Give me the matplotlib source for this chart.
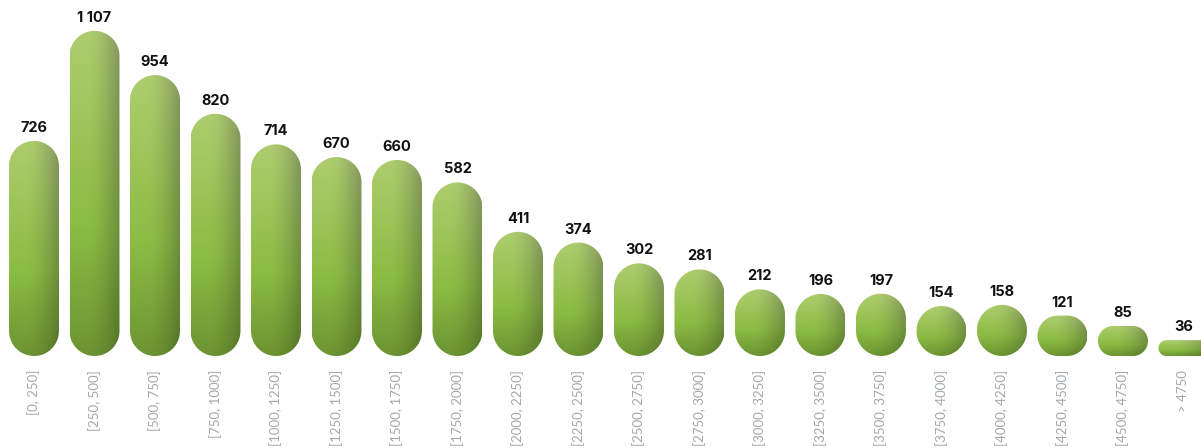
import numpy as np
import matplotlib
matplotlib.use("Agg")
import matplotlib.pyplot as plt
from matplotlib.path import Path
from matplotlib.patches import PathPatch
from matplotlib.transforms import IdentityTransform

categories = ["[0, 250]", "[250, 500]", "[500, 750]", "[750, 1000]", "[1000, 1250]",
              "[1250, 1500]", "[1500, 1750]", "[1750, 2000]", "[2000, 2250]", "[2250, 2500]",
              "[2500, 2750]", "[2750, 3000]", "[3000, 3250]", "[3250, 3500]", "[3500, 3750]",
              "[3750, 4000]", "[4000, 4250]", "[4250, 4500]", "[4500, 4750]", "> 4750"]
counts = [726, 1107, 954, 820, 714, 670, 660, 582, 411, 374,
          302, 281, 212, 196, 197, 154, 158, 121, 85, 36]


def pill_path(x0, y0, x1, y1):
    # stadium shape in pixel coords, radius = half the shorter side
    r = min(x1 - x0, y1 - y0) / 2
    a = np.linspace(0, np.pi / 2, 20)
    pts = []
    pts += list(zip(x1 - r + r * np.cos(a), y1 - r + r * np.sin(a)))               # top right
    pts += list(zip(x0 + r - r * np.sin(a), y1 - r + r * np.cos(a)))               # top left
    pts += list(zip(x0 + r - r * np.cos(a), y0 + r - r * np.sin(a)))               # bottom left
    pts += list(zip(x1 - r + r * np.sin(a), y0 + r - r * np.cos(a)))               # bottom right
    pts.append(pts[0])
    return Path(pts, closed=True)


def gradient_image():
    t = np.linspace(0, 1, 200)[:, None, None]
    s = np.linspace(0, 1, 80)[None, :, None]
    top = np.array([174, 205, 110]) / 255
    mid = np.array([140, 188, 68]) / 255
    bot = np.array([108, 148, 50]) / 255
    k1 = np.clip(t / 0.6, 0, 1)
    k2 = np.clip((t - 0.6) / 0.4, 0, 1)
    col = np.where(t < 0.6, top * (1 - k1) + mid * k1, mid * (1 - k2) + bot * k2)
    h = np.clip((s - 0.35) / 0.65, 0, 1) ** 1.6
    col = col * (1 - 0.22 * h)
    # slight grey tint on the upper right side
    grey = col.mean(axis=2, keepdims=True)
    g = h * (1 - t) * 0.25
    col = col * (1 - g) + grey * g
    return np.clip(col, 0, 1)


fig = plt.figure(figsize=(12.01, 4.48), dpi=100)
ax = fig.add_axes([0, 92 / 448, 1, 356 / 448])
ax.set_xlim(-0.562, 19.29)
ax.set_ylim(-19, 1214)
ax.axis("off")

base = -19
bar_w = 0.826
img = gradient_image()

for i, (cat, v) in enumerate(zip(categories, counts)):
    x0, y0 = ax.transData.transform((i - bar_w / 2, base))
    x1, y1 = ax.transData.transform((i + bar_w / 2, v))
    patch = PathPatch(pill_path(x0, y0, x1, y1), transform=IdentityTransform())
    im = ax.imshow(img, extent=(i - bar_w / 2, i + bar_w / 2, base, v),
                   aspect="auto", interpolation="bilinear", zorder=2)
    im.set_clip_path(patch)

    ax.annotate(f"{v:,}".replace(",", " "), xy=(i, v), xytext=(0, 6),
                textcoords="offset pixels", ha="center", va="bottom",
                fontsize=10.5, fontweight="bold", family="Inter", color="#111111")
    ax.annotate(cat, xy=(i, base), xytext=(0, -14), textcoords="offset pixels",
                ha="center", va="top", rotation=90, fontsize=9.5,
                family="Lato", fontweight="normal", color="#a3a7ac")

ax.set_xlim(-0.562, 19.29)
ax.set_ylim(-19, 1214)
fig.savefig("out.png", dpi=100)
